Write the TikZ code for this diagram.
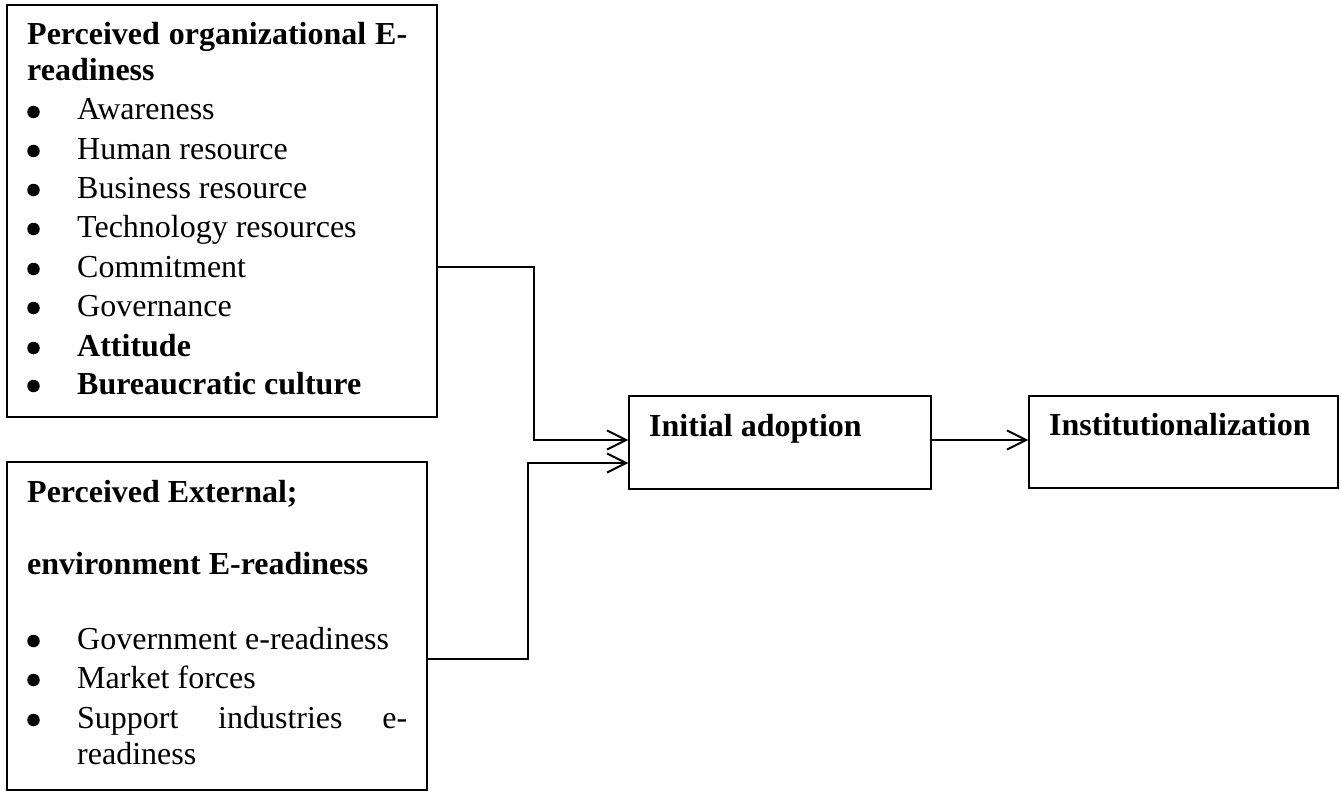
\documentclass[tikz,border=0pt]{standalone}
\usepackage{fontspec}
\setmainfont{Liberation Serif}
\usetikzlibrary{arrows.meta}
\tikzset{
  box/.style={draw=black, line width=1.4pt, rectangle, inner sep=0pt},
  txt/.style={anchor=base west, inner sep=0pt, font=\fontsize{32}{38}\selectfont},
  btxt/.style={txt, font=\fontsize{32}{38}\selectfont\bfseries},
  bul/.style={circle, fill=black, draw=none, inner sep=0pt, minimum size=12.5pt},
  conn/.style={draw=black, line width=2pt, -{Straight Barb[length=19pt,width=19pt,line width=2pt]}}
}
\begin{document}
\begin{tikzpicture}[x=1pt,y=-1pt]
\useasboundingbox (0,0) rectangle (1341,797);
% boxes
\node[box, minimum width=430pt, minimum height=412pt] (org) at (222,211) {};
\node[box, minimum width=420pt, minimum height=328pt] (ext) at (217,626) {};
\node[box, minimum width=302pt, minimum height=93pt] (init) at (780,442.5) {};
\node[box, minimum width=309pt, minimum height=92pt] (inst) at (1183.5,442) {};
% box 1 texts
\node[btxt] (o0) at (27,45) {\makebox[380pt][s]{Perceived organizational E-}};
\node[btxt] (o0b) at (27,81) {readiness};
\foreach \y/\t/\n in {120/Awareness/a,159/Human resource/b,198/Business resource/c,237/Technology resources/d,277/Commitment/e,316/Governance/f}{
  \node[bul] (ob\n) at (33.5,\y-8) {};
  \node[txt] (ot\n) at (77,\y) {\t};
}
\node[bul] (obg) at (33.5,348) {};
\node[btxt] (otg) at (77,356) {Attitude};
\node[bul] (obh) at (33.5,386) {};
\node[btxt] (oth) at (77,394) {Bureaucratic culture};
% box 2 texts
\node[btxt] (e0) at (27,502) {Perceived External;};
\node[btxt] (e1) at (27,574) {environment E-readiness};
\node[bul] (eba) at (33.5,641) {};
\node[txt] (eta) at (77,649) {Government e-readiness};
\node[bul] (ebb) at (33.5,680) {};
\node[txt] (etb) at (77,688) {Market forces};
\node[bul] (ebc) at (33.5,720) {};
\node[txt] (etc) at (77,728) {\makebox[330pt][s]{Support industries e-}};
\node[txt] (etd) at (77,764) {readiness};
% right texts
\node[btxt] (it) at (649,436) {Initial adoption};
\node[btxt] (nt) at (1049,435) {Institutionalization};
% connectors
\draw[conn] ([yshift=-56pt]org.east) -- ++(96,0) |- ([yshift=2.5pt]init.west);
\draw[conn] ([yshift=-33pt]ext.east) -- ++(100,0) |- ([yshift=-20.5pt]init.west);
\draw[conn] ([yshift=2.5pt]init.east) -- ([yshift=2pt]inst.west);
\end{tikzpicture}
\end{document}
